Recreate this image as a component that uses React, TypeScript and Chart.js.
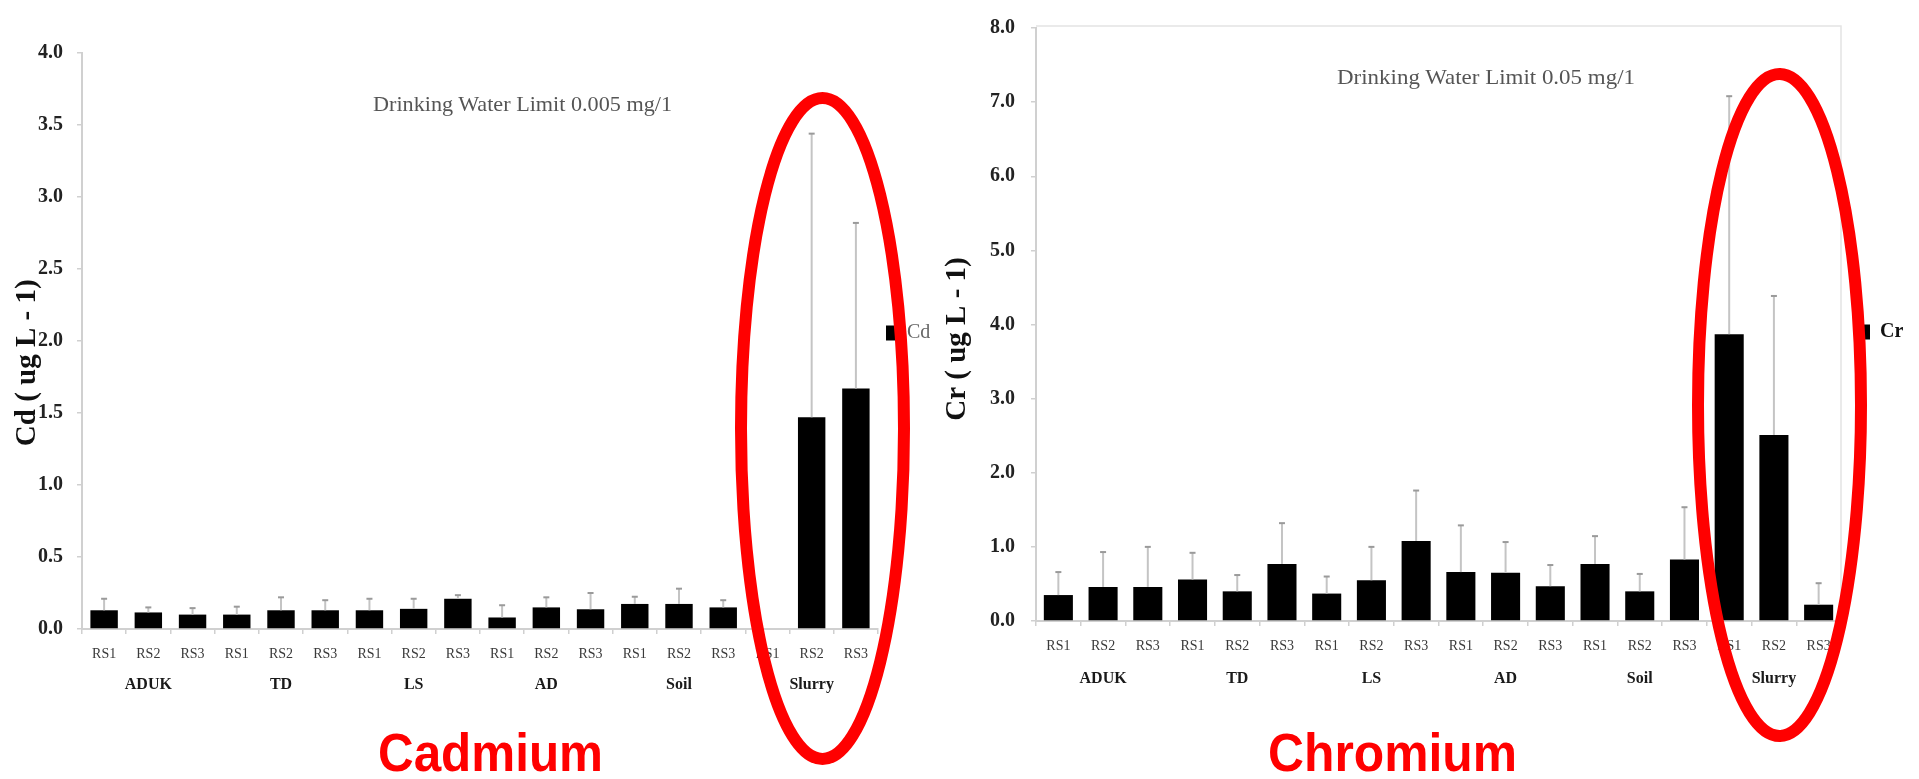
import React, { useEffect, useRef } from 'react';
import { Chart, registerables } from 'chart.js';

Chart.register(...registerables);

// ---------- data ----------
const sites = ['RS1', 'RS2', 'RS3', 'RS1', 'RS2', 'RS3', 'RS1', 'RS2', 'RS3', 'RS1', 'RS2', 'RS3', 'RS1', 'RS2', 'RS3', 'RS1', 'RS2', 'RS3'];
const groups = ['ADUK', 'TD', 'LS', 'AD', 'Soil', 'Slurry'];

const cdMeans = [0.13, 0.115, 0.1, 0.1, 0.13, 0.13, 0.13, 0.14, 0.21, 0.08, 0.15, 0.137, 0.174, 0.174, 0.15, 0, 1.47, 1.67];
const cdSD = [0.08, 0.035, 0.045, 0.055, 0.09, 0.07, 0.08, 0.07, 0.025, 0.085, 0.07, 0.113, 0.05, 0.106, 0.05, 0, 1.97, 1.15];

const crMeans = [0.35, 0.46, 0.46, 0.56, 0.4, 0.77, 0.37, 0.55, 1.08, 0.66, 0.65, 0.47, 0.77, 0.4, 0.83, 3.87, 2.51, 0.22];
const crSD = [0.31, 0.47, 0.54, 0.36, 0.22, 0.55, 0.23, 0.45, 0.68, 0.63, 0.415, 0.285, 0.375, 0.235, 0.705, 3.21, 1.875, 0.29];

const cdAxis = { max: 4, step: 0.5 };
const crAxis = { max: 8, step: 1 };

const SERIF = "'Liberation Serif', 'Times New Roman', serif";
const SANS = "'Liberation Sans', Arial, sans-serif";

// ---------- plugins ----------
const errorBarPlugin = {
  id: 'errorBars',
  afterDatasetsDraw(chart: any, _args: any, opts: any) {
    const ctx = chart.ctx;
    const meta = chart.getDatasetMeta(0);
    const values = chart.data.datasets[0].data;
    const errs = opts.errors || [];
    const y = chart.scales.y;
    ctx.save();
    meta.data.forEach((bar: any, i: number) => {
      const sd = errs[i];
      const v = values[i];
      if (!sd) return;
      const yBar = y.getPixelForValue(v);
      const yTop = y.getPixelForValue(v + sd);
      ctx.strokeStyle = opts.color;
      ctx.lineWidth = opts.width;
      ctx.beginPath();
      ctx.moveTo(bar.x, yBar);
      ctx.lineTo(bar.x, yTop);
      ctx.stroke();
      ctx.strokeStyle = opts.capColor;
      ctx.beginPath();
      ctx.moveTo(bar.x - opts.cap, yTop);
      ctx.lineTo(bar.x + opts.cap, yTop);
      ctx.stroke();
    });
    ctx.restore();
  },
};

const framePlugin = {
  id: 'frame',
  beforeDatasetsDraw(chart: any, _args: any, opts: any) {
    if (!opts.display) return;
    const { ctx, chartArea } = chart;
    ctx.save();
    ctx.strokeStyle = opts.color;
    ctx.lineWidth = opts.width;
    ctx.beginPath();
    ctx.moveTo(chartArea.left, chartArea.top - 2);
    ctx.lineTo(chartArea.right, chartArea.top - 2);
    ctx.lineTo(chartArea.right, chartArea.bottom);
    ctx.stroke();
    ctx.restore();
  },
};

type PanelOpts = {
  label: string;
  means: number[];
  sd: number[];
  axis: { max: number; step: number };
  title: string;
  padding: { left: number; top: number; right: number; bottom: number };
  yWidth: number;
  titlePad: number;
  tickPad: number;
  groupPad: number;
  barPct: number;
  legendMax: number;
  legendPad: number;
  legendOffset: number;
  legendColor: string;
  legendWeight: string;
  frame: boolean;
};

function buildConfig(p: PanelOpts): any {
  return {
    type: 'bar',
    data: {
      labels: sites,
      datasets: [
        {
          label: p.label,
          data: p.means,
          backgroundColor: '#000000',
          borderColor: '#000000',
          borderWidth: 0,
          barPercentage: p.barPct,
          categoryPercentage: 1,
        },
      ],
    },
    options: {
      animation: false,
      responsive: true,
      maintainAspectRatio: false,
      layout: { padding: p.padding },
      plugins: {
        legend: {
          position: 'right',
          fullSize: false,
          align: 'start',
          maxWidth: p.legendMax,
          title: {
            display: true,
            text: ' ',
            color: 'rgba(0,0,0,0)',
            font: { size: 10, lineHeight: 1 },
            padding: { top: p.legendOffset - 10, bottom: 0 },
          },
          labels: {
            boxWidth: 11,
            boxHeight: 15,
            padding: p.legendPad,
            color: p.legendColor,
            font: { family: SERIF, size: 20, weight: p.legendWeight },
          },
        },
        tooltip: { enabled: false },
        errorBars: { errors: p.sd, color: '#c4c4c4', capColor: '#9a9a9a', width: 2, cap: 3 },
        frame: { display: p.frame, color: '#e4e4e4', width: 1.5 },
      },
      scales: {
        x: {
          type: 'category',
          position: 'bottom',
          weight: 0,
          offset: true,
          grid: { offset: true, drawOnChartArea: false, drawTicks: true, tickLength: 5, color: '#d0d0d0', lineWidth: 1.5 },
          border: { display: true, color: '#d0d0d0', width: 2 },
          ticks: { color: '#3a3a3a', font: { family: SERIF, size: 14 }, padding: 12, maxRotation: 0, autoSkip: false },
          afterFit: (s: any) => {
            s.height = 34;
          },
        },
        x2: {
          type: 'category',
          position: 'bottom',
          weight: 1,
          labels: groups,
          offset: true,
          grid: { display: false, drawTicks: false },
          border: { display: false },
          ticks: { color: '#1a1a1a', font: { family: SERIF, size: 16, weight: 'bold' }, padding: p.groupPad, maxRotation: 0, autoSkip: false },
          afterFit: (s: any) => {
            s.height = 44;
          },
        },
        y: {
          min: 0,
          max: p.axis.max,
          ticks: {
            stepSize: p.axis.step,
            callback: (v: any) => Number(v).toFixed(1),
            color: '#222222',
            font: { family: SERIF, size: 20, weight: 'bold' },
            padding: p.tickPad,
          },
          grid: { drawOnChartArea: false, drawTicks: true, tickLength: 5, color: '#d0d0d0', lineWidth: 1.5 },
          border: { display: true, color: '#d0d0d0', width: 2 },
          title: {
            display: true,
            text: p.title,
            color: '#111111',
            font: { family: SERIF, size: 29, weight: 'bold' },
            padding: { top: p.titlePad, bottom: 0 },
          },
          afterFit: (s: any) => {
            s.width = p.yWidth;
          },
        },
      },
    },
    plugins: [errorBarPlugin, framePlugin],
  };
}

const cdPanel: PanelOpts = {
  label: 'Cd',
  means: cdMeans,
  sd: cdSD,
  axis: cdAxis,
  title: 'Cd ( ug L - 1)      ',
  padding: { left: 0, top: 53, right: 20, bottom: 72 },
  yWidth: 82,
  titlePad: 10,
  tickPad: 14,
  groupPad: 12,
  barPct: 0.62,
  legendMax: 52,
  legendPad: 8,
  legendOffset: 262,
  legendColor: '#666666',
  legendWeight: 'normal',
  frame: false,
};

const crPanel: PanelOpts = {
  label: 'Cr',
  means: crMeans,
  sd: crSD,
  axis: crAxis,
  title: 'Cr ( ug L - 1)    ',
  padding: { left: 0, top: 20, right: 16, bottom: 80 },
  yWidth: 116,
  titlePad: 20.6,
  tickPad: 16,
  groupPad: 14,
  barPct: 0.65,
  legendMax: 62,
  legendPad: 18,
  legendOffset: 276,
  legendColor: '#111111',
  legendWeight: 'bold',
  frame: true,
};

function BarPanel(props: { left: number; width: number; panel: PanelOpts }) {
  const ref = useRef<HTMLCanvasElement>(null);
  useEffect(() => {
    const chart = new Chart(ref.current as HTMLCanvasElement, buildConfig(props.panel));
    return () => chart.destroy();
  }, []);
  return (
    <div style={{ position: 'absolute', left: props.left, top: 0, width: props.width, height: 779 }}>
      <canvas ref={ref} />
    </div>
  );
}

export default function App() {
  return (
    <div style={{ position: 'fixed', left: 0, top: 0, width: 1919, height: 779, background: '#ffffff', overflow: 'hidden' }}>
      <BarPanel left={0} width={950} panel={cdPanel} />
      <BarPanel left={920} width={999} panel={crPanel} />
      <svg width={1919} height={779} style={{ position: 'absolute', left: 0, top: 0, pointerEvents: 'none' }}>
        <text x={522.5} y={111} textAnchor="middle" fontFamily={SERIF} fontSize={21} fill="#555555" textLength={299} lengthAdjust="spacingAndGlyphs">
          Drinking Water Limit 0.005 mg/1
        </text>
        <text x={1486} y={84} textAnchor="middle" fontFamily={SERIF} fontSize={21} fill="#555555" textLength={298} lengthAdjust="spacingAndGlyphs">
          Drinking Water Limit 0.05 mg/1
        </text>
        <ellipse cx={822.5} cy={428.5} rx={81.5} ry={330.5} fill="none" stroke="#ff0000" strokeWidth={12} />
        <ellipse cx={1779.5} cy={405} rx={81.5} ry={331} fill="none" stroke="#ff0000" strokeWidth={12} />
        <g transform="translate(0,771) scale(1,1.06) translate(0,-771)">
          <text x={490.5} y={771} textAnchor="middle" fontFamily={SANS} fontWeight="bold" fontSize={50} fill="#ff0000" textLength={225} lengthAdjust="spacingAndGlyphs">
            Cadmium
          </text>
          <text x={1392.5} y={771} textAnchor="middle" fontFamily={SANS} fontWeight="bold" fontSize={50} fill="#ff0000" textLength={249} lengthAdjust="spacingAndGlyphs">
            Chromium
          </text>
        </g>
      </svg>
    </div>
  );
}
